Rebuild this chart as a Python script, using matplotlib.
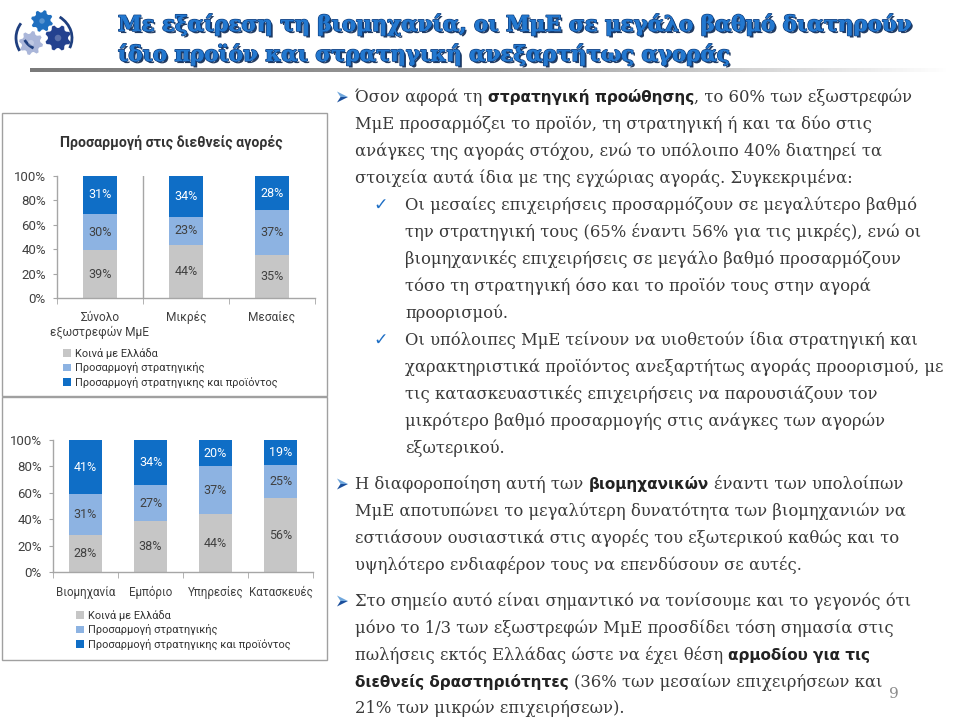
import matplotlib
matplotlib.use('Agg')
import matplotlib.pyplot as plt
from matplotlib import font_manager, patheffects
from matplotlib.patches import Rectangle, Polygon, Arc, Circle
import numpy as np

# ---------------- data ----------------
series_names = ['Κοινά με Ελλάδα', 'Προσαρμογή στρατηγικής',
                'Προσαρμογή στρατηγικης και προϊόντος']

top_title = 'Προσαρμογή στις διεθνείς αγορές'
top_categories = ['Σύνολο\nεξωστρεφών ΜμΕ', 'Μικρές', 'Μεσαίες']
top_common = [39, 44, 35]
top_strategy = [30, 23, 37]
top_strategy_product = [31, 34, 28]

bottom_categories = ['Βιομηχανία', 'Εμπόριο', 'Υπηρεσίες', 'Κατασκευές']
bottom_common = [28, 38, 44, 56]
bottom_strategy = [31, 27, 37, 25]
bottom_strategy_product = [41, 34, 20, 19]

y_ticks = [0, 20, 40, 60, 80, 100]

slide_title = ['Με εξαίρεση τη βιομηχανία, οι ΜμΕ σε μεγάλο βαθμό διατηρούν',
               'ίδιο προϊόν και στρατηγική ανεξαρτήτως αγοράς']

# body text: (bullet, runs); runs are (text, bold)
body_lines = [
    ('arrow', [('Όσον αφορά τη ', False), ('στρατηγική προώθησης', True), (', το 60% των εξωστρεφών', False)]),
    (None, [('ΜμΕ προσαρμόζει το προϊόν, τη στρατηγική ή και τα δύο στις', False)]),
    (None, [('ανάγκες της αγοράς στόχου, ενώ το υπόλοιπο 40% διατηρεί τα', False)]),
    (None, [('στοιχεία αυτά ίδια με της εγχώριας αγοράς. Συγκεκριμένα:', False)]),
    ('check', [('Οι μεσαίες επιχειρήσεις προσαρμόζουν σε μεγαλύτερο βαθμό', False)]),
    ('sub', [('την στρατηγική τους (65% έναντι 56% για τις μικρές), ενώ οι', False)]),
    ('sub', [('βιομηχανικές επιχειρήσεις σε μεγάλο βαθμό προσαρμόζουν', False)]),
    ('sub', [('τόσο τη στρατηγική όσο και το προϊόν τους στην αγορά', False)]),
    ('sub', [('προορισμού.', False)]),
    ('check', [('Οι υπόλοιπες ΜμΕ τείνουν να υιοθετούν ίδια στρατηγική και', False)]),
    ('sub', [('χαρακτηριστικά προϊόντος ανεξαρτήτως αγοράς προορισμού, με', False)]),
    ('sub', [('τις κατασκευαστικές επιχειρήσεις να παρουσιάζουν τον', False)]),
    ('sub', [('μικρότερο βαθμό προσαρμογής στις ανάγκες των αγορών', False)]),
    ('sub', [('εξωτερικού.', False)]),
    ('arrow', [('Η διαφοροποίηση αυτή των ', False), ('βιομηχανικών', True), (' έναντι των υπολοίπων', False)]),
    (None, [('ΜμΕ αποτυπώνει το μεγαλύτερη δυνατότητα των βιομηχανιών να', False)]),
    (None, [('εστιάσουν ουσιαστικά στις αγορές του εξωτερικού καθώς και το', False)]),
    (None, [('υψηλότερο ενδιαφέρον τους να επενδύσουν σε αυτές.', False)]),
    ('arrow', [('Στο σημείο αυτό είναι σημαντικό να τονίσουμε και το γεγονός ότι', False)]),
    (None, [('μόνο το 1/3 των εξωστρεφών ΜμΕ προσδίδει τόση σημασία στις', False)]),
    (None, [('πωλήσεις εκτός Ελλάδας ώστε να έχει θέση ', False), ('αρμοδίου για τις', True)]),
    (None, [('διεθνείς δραστηριότητες', True), (' (36% των μεσαίων επιχειρήσεων και', False)]),
    (None, [('21% των μικρών επιχειρήσεων).', False)]),
]
body_line_y = [97, 124, 151, 178, 205, 232, 259, 286, 313, 340, 367, 394, 421,
               448, 484, 511, 538, 565, 601, 628, 655, 682, 708]
page_number = '9'

# ---------------- styling ----------------
W, H = 960, 718
C_GRAY = '#c6c6c6'
C_LBLUE = '#8db3e2'
C_DBLUE = '#0f6ec6'
SERIES_COLORS = [C_GRAY, C_LBLUE, C_DBLUE]
LABEL_COLORS = ['#404040', '#404040', 'white']
AXIS_C = '#a6a6a6'

available = {f.name for f in font_manager.fontManager.ttflist}
def pick(*names):
    for n in names:
        if n in available:
            return n
    return 'DejaVu Sans'


CHART_FONT = [pick('Roboto', 'Open Sans', 'Noto Sans'), 'DejaVu Sans']
BODY_FONT = ['DejaVu Serif']
TITLE_FONT = ['DejaVu Serif']

plt.rcParams['font.family'] = CHART_FONT

fig = plt.figure(figsize=(W / 100, H / 100), dpi=100)
fig.patch.set_facecolor('white')
renderer = fig.canvas.get_renderer()

bg = fig.add_axes([0, 0, 1, 1], zorder=0)
bg.set_xlim(0, W)
bg.set_ylim(H, 0)
bg.axis('off')


def text_width(t):
    return t.get_window_extent(renderer).width


# ---------------- logo ----------------
def gear(cx, cy, r, color, teeth=8, rot=0.0):
    n = teeth * 4
    ang = np.linspace(0, 2 * np.pi, n, endpoint=False) + rot
    radii = np.tile([r, r, r * 0.78, r * 0.78], teeth)
    pts = np.column_stack([cx + radii * np.cos(ang), cy + radii * np.sin(ang)])
    bg.add_patch(Polygon(pts, closed=True, facecolor=color, edgecolor='none', zorder=2))
    bg.add_patch(Circle((cx, cy), r * 0.25, facecolor='white', alpha=0.25, edgecolor='none', zorder=3))

gear(42, 21, 11, '#1f6fbf', rot=0.2)
gear(31, 43, 12, '#aab6d9', rot=0.1)
gear(58, 38, 13, '#23418f', rot=0.3)
bg.add_patch(Arc((42, 38), 52, 50, theta1=150, theta2=215, color='#1f3f7f', lw=2, zorder=2))
bg.add_patch(Arc((42, 38), 60, 52, theta1=-50, theta2=20, color='#1f3f7f', lw=2, zorder=2))
bg.add_patch(Arc((42, 30), 40, 40, theta1=115, theta2=150, color='#1f3f7f', lw=2, zorder=2))

# ---------------- slide title ----------------
title_pe = [patheffects.withSimplePatchShadow(offset=(1.5, -1.5), shadow_rgbFace='#0a2650', alpha=0.9),
            patheffects.withStroke(linewidth=1.2, foreground='#0f3f80'),
            patheffects.Normal()]
probe = bg.text(0, 0, slide_title[0], fontsize=16, family=TITLE_FONT, weight='bold')
tsize = 16 * 794 / text_width(probe)
probe.remove()
for line, yb in zip(slide_title, [31, 61]):
    bg.text(118, yb, line, fontsize=tsize, family=TITLE_FONT, weight='bold',
            color='#2378cf', va='baseline', ha='left', path_effects=title_pe, zorder=3)

# gradient rule under title
grad_ax = fig.add_axes([30 / W, 1 - 72 / H, 920 / W, 4 / H], zorder=1)
grad = np.linspace(0, 1, 256)[None, :]
grad_ax.imshow(grad, aspect='auto', cmap=matplotlib.colors.LinearSegmentedColormap.from_list(
    'g', ['#7a7a7a', '#9c9c9c', '#ffffff']))
grad_ax.axis('off')

# ---------------- chart boxes ----------------
bg.add_patch(Rectangle((2, 113), 325, 283, facecolor='none', edgecolor='#a0a0a0', lw=1, zorder=1))
bg.add_patch(Rectangle((2, 397), 325, 263, facecolor='none', edgecolor='#a0a0a0', lw=1, zorder=1))


def px_axes(left, top, right, bottom):
    ax = fig.add_axes([left / W, 1 - bottom / H, (right - left) / W, (bottom - top) / H], zorder=2)
    ax.set_facecolor('none')
    return ax


def stacked(ax, cats, series, width, xpad, xsize):
    data = np.array(series, dtype=float)
    frac = data / data.sum(axis=0) * 100
    x = np.arange(len(cats))
    base = np.zeros(len(cats))
    handles = []
    for vals, f, col, tc, name in zip(data, frac, SERIES_COLORS, LABEL_COLORS, series_names):
        h = ax.bar(x, f, width, bottom=base, color=col, label=name, zorder=2)
        handles.append(h)
        for xi, b, fi, v in zip(x, base, f, vals):
            ax.text(xi, b + fi / 2, f'{v:.0f}%', ha='center', va='center',
                    color=tc, fontsize=9, zorder=3)
        base = base + f
    ax.set_xlim(-0.5, len(cats) - 0.5)
    ax.set_ylim(0, 100)
    ax.set_yticks(y_ticks)
    ax.set_yticklabels([f'{t}%' for t in y_ticks])
    ax.set_xticks(x)
    ax.set_xticklabels(cats)
    ax.set_xticks(np.arange(len(cats) + 1) - 0.5, minor=True)
    ax.tick_params(axis='x', which='major', length=0, pad=xpad, labelsize=xsize, labelcolor='#404040')
    ax.tick_params(axis='x', which='minor', length=4, color=AXIS_C, direction='out')
    ax.tick_params(axis='y', length=3, color=AXIS_C, pad=5, labelsize=9.5, labelcolor='#404040')
    for s in ['top', 'right']:
        ax.spines[s].set_visible(False)
    for s in ['left', 'bottom']:
        ax.spines[s].set_color(AXIS_C)
        ax.spines[s].set_linewidth(1)
    return handles


LEG_KW = dict(loc='upper left', frameon=False, fontsize=7.9, handlelength=0.7, handleheight=0.7,
              handletextpad=0.35, labelspacing=0.3, borderpad=0, borderaxespad=0,
              labelcolor='#333333')

ax_top = px_axes(57, 176, 315, 298)
h_top = stacked(ax_top, top_categories,
                [top_common, top_strategy, top_strategy_product], 0.4, 9, 8.6)
ax_top.axvline(0.5, color=AXIS_C, lw=1, zorder=1)
bg.text(171, 143, top_title, ha='center', va='center', fontsize=10.2,
        weight='bold', color='#333333', family=CHART_FONT, zorder=3)
fig.legend(h_top, series_names, bbox_to_anchor=(63 / W, 1 - 348 / H), **LEG_KW)

ax_bot = px_axes(53, 440, 313, 572)
h_bot = stacked(ax_bot, bottom_categories,
                [bottom_common, bottom_strategy, bottom_strategy_product], 0.52, 10, 8.3)
fig.legend(h_bot, series_names, bbox_to_anchor=(76 / W, 1 - 610 / H), **LEG_KW)

# ---------------- body text ----------------
BODY_C = '#3a3a3a'
BOLD_C = '#222222'
probe = bg.text(0, 0, 'Οι μεσαίες επιχειρήσεις προσαρμόζουν σε μεγαλύτερο βαθμό',
                fontsize=13, family=BODY_FONT)
bsize = 13 * 510 / text_width(probe)
probe.remove()
BOLD_SIZE = bsize * 0.93


def space_w(**kw):
    a = bg.text(0, 0, 'x x', **kw)
    b = bg.text(0, 0, 'xx', **kw)
    w = text_width(a) - text_width(b)
    a.remove(); b.remove()
    return w

sp_reg = space_w(fontsize=bsize, family=BODY_FONT)
sp_bold = space_w(fontsize=BOLD_SIZE, family='DejaVu Sans', weight='bold')


def draw_runs(x, y, runs):
    for txt, bold in runs:
        kw = dict(fontsize=BOLD_SIZE, family='DejaVu Sans', weight='bold', color=BOLD_C) if bold \
            else dict(fontsize=bsize, family=BODY_FONT, color=BODY_C)
        sp = sp_bold if bold else sp_reg
        lead = len(txt) - len(txt.lstrip(' '))
        trail = len(txt) - len(txt.rstrip(' '))
        x += lead * sp
        core = txt.strip(' ')
        t = bg.text(x, y, core, va='baseline', ha='left', zorder=3, **kw)
        x += text_width(t) + trail * sp


def arrow_bullet(x, yc):
    upper = [(x, yc - 5.5), (x + 11, yc), (x + 3.5, yc)]
    lower = [(x + 3.5, yc), (x + 11, yc), (x, yc + 5.5)]
    bg.add_patch(Polygon(upper, closed=True, facecolor='#6fa6dc', edgecolor='none', zorder=3))
    bg.add_patch(Polygon(lower, closed=True, facecolor='#1b4f9c', edgecolor='none', zorder=3))


for (bullet, runs), yc in zip(body_lines, body_line_y):
    if bullet == 'arrow':
        arrow_bullet(337, yc)
        x0 = 355
    elif bullet == 'check':
        bg.text(373, yc, '✓', fontsize=12.5, color='#1f6fc5', family='DejaVu Sans',
                va='center', ha='left', zorder=3)
        x0 = 405
    elif bullet == 'sub':
        x0 = 405
    else:
        x0 = 355
    draw_runs(x0, yc + 5, runs)

bg.text(889, 694, page_number, fontsize=11, color='#8c8c8c', family=BODY_FONT,
        va='center', ha='left', zorder=3)

fig.savefig('out.png', dpi=100, facecolor='white')
